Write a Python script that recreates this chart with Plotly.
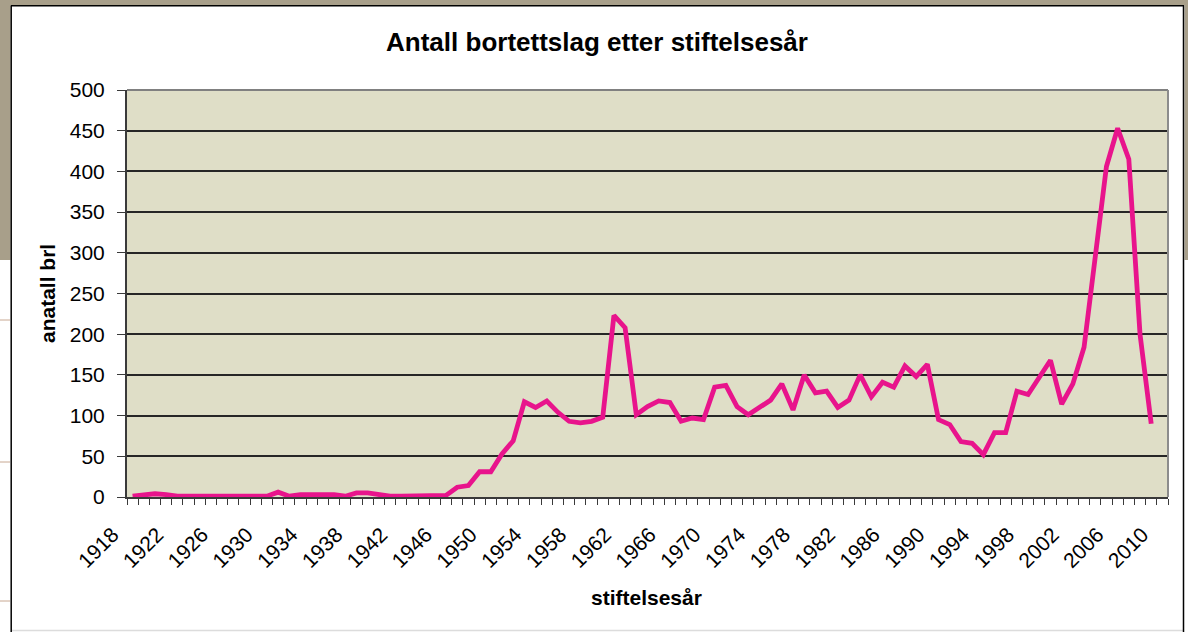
import plotly.express as px

# data
years = list(range(1918, 2010))
antall_brl = (
    [1, 3]
    + [4, 3, 1, 1, 1, 1, 1, 1, 1, 1]            # 1920-1929
    + [1, 6, 1, 3, 3, 3, 3, 1, 5, 5]            # 1930-1939
    + [3, 1, 1, 1, 1, 1, 2, 12, 14, 31]         # 1940-1949
    + [31, 53, 69, 117, 110, 118, 104, 93, 91, 93]    # 1950-1959
    + [98, 223, 208, 101, 111, 118, 116, 93, 97, 95]  # 1960-1969
    + [135, 137, 111, 101, 110, 119, 139, 107, 150, 128]  # 1970-1979
    + [130, 110, 119, 150, 123, 141, 135, 161, 148, 163]  # 1980-1989
    + [95, 89, 68, 66, 52, 79, 79, 130, 126, 147]     # 1990-1999
    + [168, 114, 139, 184, 300, 406, 453, 415, 200, 90]   # 2000-2009
)
tick_years = list(range(1918, 2011, 4))
y_ticks = list(range(0, 501, 50))

FONT = "Liberation Sans, Arial, sans-serif"
W, H = 1188, 632
L, R, T, B = 127, 20, 90, 135
PW = W - L - R
PH = H - T - B


def pxx(x):
    return (x - L) / PW


def pxy(y):
    return (H - B - y) / PH


def rect(x0, y0, x1, y1, color, layer="below"):
    return dict(type="rect", xref="paper", yref="paper",
                x0=pxx(x0), x1=pxx(x1), y0=pxy(y1), y1=pxy(y0),
                fillcolor=color, line=dict(width=0), layer=layer)


def line(x0, y0, x1, y1, color, width, layer="below"):
    return dict(type="line", xref="paper", yref="paper",
                x0=pxx(x0), x1=pxx(x1), y0=pxy(y0), y1=pxy(y1),
                line=dict(color=color, width=width), layer=layer)


fig = px.line(x=years, y=antall_brl)
fig.update_traces(line=dict(color="#E8148C", width=4.8), hoverinfo="skip")

taupe = "#A89F8A"
shapes = [
    # background around the chart frame
    rect(0, 0, W, 5.5, taupe),
    rect(0, 0, 10.5, 260, taupe),
    rect(1184.5, 0, W, 260, taupe),
    line(0, 320, 10, 320, "#C8A892", 1),
    line(0, 462, 10, 462, "#C8A892", 1),
    line(0, 601, 10, 601, "#C8A892", 1),
    line(12, 630.5, 1183, 630.5, "#DCDCDC", 1.5),
    # chart frame
    line(11.2, 5.5, 11.2, H, "#000000", 1.5),
    line(11, 5.8, 1184, 5.8, "#000000", 1.5),
    line(1183.5, 5.5, 1183.5, H, "#000000", 1.5),
    # plot area border (top / right)
    line(L, T, L + PW, T, "#808080", 2, "above"),
    line(L + PW, T, L + PW, T + PH, "#8C8C8C", 2, "above"),
]

fig.update_layout(
    width=W,
    height=H,
    margin=dict(l=L, r=R, t=T, b=B),
    paper_bgcolor="white",
    plot_bgcolor="#DFDEC7",
    showlegend=False,
    font=dict(family=FONT, color="black"),
    title=dict(
        text="<b>Antall bortettslag etter stiftelsesår</b>",
        x=597 / W, xref="container", xanchor="center",
        y=1 - 42 / H, yref="container", yanchor="middle",
        font=dict(family=FONT, size=26, color="black"),
    ),
    shapes=shapes,
)

fig.update_xaxes(
    title_text="",
    range=[1917.5, 2010.5],
    tickmode="array",
    tickvals=tick_years,
    ticks="",
    tickangle=-45,
    tickfont=dict(family=FONT, size=21, color="black"),
    ticklabelshift=-20,
    ticklabelstandoff=15,
    showline=True, linecolor="#3A3A3A", linewidth=2,
    showgrid=False, zeroline=False,
    minor=dict(tick0=1917.5, dtick=1, ticks="outside", ticklen=6,
               tickcolor="#3A3A3A", tickwidth=1.2, showgrid=False),
)

fig.update_yaxes(
    title_text="",
    range=[0, 500],
    tickmode="array",
    tickvals=y_ticks,
    ticks="outside", ticklen=8, tickcolor="#3A3A3A", tickwidth=1.2,
    tickfont=dict(family=FONT, size=21, color="black"),
    ticklabelstandoff=8,
    showline=True, linecolor="#3A3A3A", linewidth=2,
    showgrid=True, gridcolor="#262626", gridwidth=1.5,
    zeroline=False,
)

# axis titles
fig.add_annotation(text="<b>anatall brl</b>", xref="paper", yref="paper",
                   x=pxx(47), y=pxy(294), xanchor="center", yanchor="middle",
                   textangle=-90, showarrow=False,
                   font=dict(family=FONT, size=21, color="black"))
fig.add_annotation(text="<b>stiftelsesår</b>", xref="paper", yref="paper",
                   x=pxx(646), y=pxy(597), xanchor="center", yanchor="middle",
                   showarrow=False,
                   font=dict(family=FONT, size=21, color="black"))

# the page body has a default 8px margin; remove it so the figure fills the window
fig.write_html("out.html", config={"displayModeBar": False},
               post_script="document.body.style.margin='0';")
